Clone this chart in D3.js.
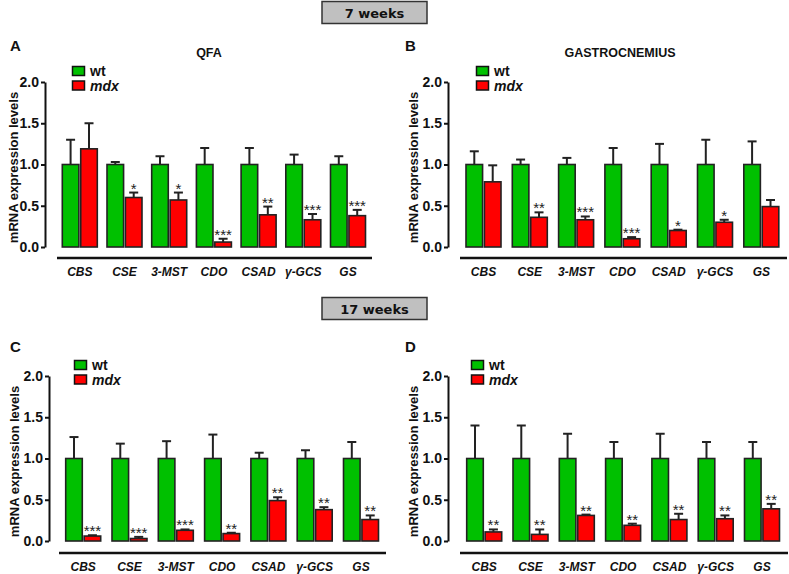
<!DOCTYPE html>
<html><head><meta charset="utf-8">
<script src="https://cdn.jsdelivr.net/npm/d3@7"></script>
<style>body{margin:0;background:#fff}svg{display:block}</style>
</head><body>
<svg id="chart" width="789" height="574"></svg>
<script>
const categories = ["CBS","CSE","3-MST","CDO","CSAD","γ-GCS","GS"];
const series = ["wt","mdx"];
const yTicks = [0,0.5,1.0,1.5,2.0];

// Panel A: QFA, 7 weeks
const a_wt = [1,1,1,1,1,1,1];
const a_wtErr = [0.30,0.03,0.10,0.20,0.20,0.12,0.10];
const a_mdx = [1.19,0.60,0.57,0.06,0.39,0.33,0.38];
const a_mdxErr = [0.31,0.06,0.09,0.04,0.10,0.07,0.07];
const a_stars = ["","*","*","***","**","***","***"];

// Panel B: Gastrocnemius, 7 weeks
const b_wt = [1,1,1,1,1,1,1];
const b_wtErr = [0.16,0.06,0.08,0.20,0.25,0.30,0.28];
const b_mdx = [0.79,0.36,0.33,0.10,0.20,0.30,0.49];
const b_mdxErr = [0.20,0.06,0.04,0.02,0.01,0.03,0.08];
const b_stars = ["","**","***","***","*","*",""];

// Panel C: 17 weeks
const c_wt = [1,1,1,1,1,1,1];
const c_wtErr = [0.26,0.18,0.21,0.29,0.07,0.10,0.20];
const c_mdx = [0.06,0.03,0.13,0.09,0.49,0.38,0.26];
const c_mdxErr = [0.01,0.02,0.01,0.01,0.04,0.03,0.05];
const c_stars = ["***","***","***","**","**","**","**"];

// Panel D: 17 weeks
const d_wt = [1,1,1,1,1,1,1];
const d_wtErr = [0.40,0.40,0.30,0.20,0.30,0.20,0.20];
const d_mdx = [0.11,0.08,0.31,0.19,0.26,0.27,0.39];
const d_mdxErr = [0.03,0.06,0.01,0.02,0.07,0.04,0.06];
const d_stars = ["**","**","**","**","**","**","**"];

const colors = {wt:"#00c000", mdx:"#ff0000"};
const svg = d3.select("#chart");
const FONT = "'Liberation Sans', Arial, sans-serif";
const VFONT = "'DejaVu Sans', Verdana, sans-serif";

function header(label, y){
  svg.append("rect").attr("x",322).attr("y",y).attr("width",105).attr("height",22)
    .attr("fill","#c0c0c0").attr("stroke","#333").attr("stroke-width",1.5);
  svg.append("text").attr("x",374.5).attr("y",y+16).attr("text-anchor","middle")
    .attr("font-family",VFONT).attr("font-weight","bold").attr("font-size",13)
    .attr("fill","#111").text(label);
}
header("7 weeks",1.5);
header("17 weeks",297.5);

const panels = [
  {letter:"A", lx:10, ly:51, title:"QFA", tx:209, ty:57, axisX:45, y0:247, y2:82, x0:62.3, pitch:44.7, lineX:[57,372], lineY:258, labY:276, ylabX:18,
   legX:72, legY:66, wt:a_wt, wtErr:a_wtErr, mdx:a_mdx, mdxErr:a_mdxErr, stars:a_stars},
  {letter:"B", lx:405, ly:51, title:"GASTROCNEMIUS", tx:620, ty:57, axisX:448, y0:247, y2:82, x0:466, pitch:46.3, lineX:[460,787], lineY:258, labY:276, ylabX:418,
   legX:476, legY:66, wt:b_wt, wtErr:b_wtErr, mdx:b_mdx, mdxErr:b_mdxErr, stars:b_stars},
  {letter:"C", lx:10, ly:352, title:"", axisX:49, y0:541, y2:376, x0:65.7, pitch:46.3, lineX:[59,386], lineY:553, labY:571, ylabX:19,
   legX:74, legY:360, wt:c_wt, wtErr:c_wtErr, mdx:c_mdx, mdxErr:c_mdxErr, stars:c_stars},
  {letter:"D", lx:405, ly:352, title:"", axisX:448, y0:541, y2:376, x0:466.7, pitch:46.3, lineX:[460,788], lineY:553, labY:571, ylabX:418,
   legX:471, legY:360, wt:d_wt, wtErr:d_wtErr, mdx:d_mdx, mdxErr:d_mdxErr, stars:d_stars}
];

panels.forEach(p=>{
  const g = svg.append("g");
  const y = d3.scaleLinear().domain([0,2]).range([p.y0,p.y2]);
  const pad = 1 - 35/p.pitch;
  const x = d3.scaleBand().domain(categories)
    .range([p.x0, p.x0 + (categories.length - pad)*p.pitch]).paddingInner(pad).paddingOuter(0);
  const x1 = d3.scaleBand().domain(series).range([0,x.bandwidth()]).paddingInner(0.1);

  g.append("text").attr("x",p.lx).attr("y",p.ly).attr("font-family",FONT).attr("font-weight","bold")
    .attr("font-size",15).attr("fill","#111").text(p.letter);
  if(p.title) g.append("text").attr("x",p.tx).attr("y",p.ty).attr("text-anchor","middle")
    .attr("font-family",FONT).attr("font-weight","bold").attr("font-size",12.5).attr("fill","#111").text(p.title);

  const ax = g.append("g").attr("transform",`translate(${p.axisX},0)`)
    .call(d3.axisLeft(y).tickValues(yTicks).tickFormat(d3.format(".1f")).tickSize(4).tickSizeOuter(0).tickPadding(2));
  ax.select(".domain").attr("stroke","#111").attr("stroke-width",2);
  ax.selectAll(".tick line").attr("stroke","#111").attr("stroke-width",2);
  ax.selectAll(".tick text").attr("font-family",FONT).attr("font-weight","bold").attr("font-size",14).attr("fill","#111");

  g.append("text").attr("transform",`translate(${p.ylabX},${(p.y0+p.y2)/2+3}) rotate(-90)`)
    .attr("text-anchor","middle").attr("font-family",FONT).attr("font-weight","bold").attr("font-size",13)
    .attr("fill","#111").text("mRNA expression levels");

  g.append("line").attr("x1",p.lineX[0]).attr("x2",p.lineX[1]).attr("y1",p.lineY).attr("y2",p.lineY)
    .attr("stroke","#111").attr("stroke-width",2.5);
  g.selectAll(".cat").data(categories).join("text")
    .attr("x",d=>x(d)+x.bandwidth()/2).attr("y",p.labY).attr("text-anchor","middle")
    .attr("font-family",FONT).attr("font-weight","bold").attr("font-style","italic").attr("font-size",12)
    .attr("fill","#111").text(d=>d);

  const rows = categories.map((c,i)=>({c, vals:[
    {s:"wt", v:p.wt[i], e:p.wtErr[i], star:""},
    {s:"mdx", v:p.mdx[i], e:p.mdxErr[i], star:p.stars[i]}]}));

  const grp = g.selectAll(".grp").data(rows).join("g").attr("transform",d=>`translate(${x(d.c)},0)`);
  const bar = grp.selectAll(".b").data(d=>d.vals).join("g");
  bar.append("line").attr("x1",d=>x1(d.s)+x1.bandwidth()/2).attr("x2",d=>x1(d.s)+x1.bandwidth()/2)
    .attr("y1",d=>y(d.v)).attr("y2",d=>y(d.v+d.e)).attr("stroke","#222").attr("stroke-width",2);
  bar.append("line").attr("x1",d=>x1(d.s)+x1.bandwidth()/2-4.5).attr("x2",d=>x1(d.s)+x1.bandwidth()/2+4.5)
    .attr("y1",d=>y(d.v+d.e)).attr("y2",d=>y(d.v+d.e)).attr("stroke","#222").attr("stroke-width",2);
  bar.append("rect").attr("x",d=>x1(d.s)).attr("width",x1.bandwidth())
    .attr("y",d=>y(d.v)).attr("height",d=>y(0)-y(d.v))
    .attr("fill",d=>colors[d.s]).attr("stroke","#222").attr("stroke-width",1.6);
  bar.filter(d=>d.star).append("text").attr("x",d=>x1(d.s)+x1.bandwidth()/2).attr("y",d=>y(d.v+d.e)+1)
    .attr("text-anchor","middle").attr("font-family",FONT).attr("font-size",15).attr("fill","#222").text(d=>d.star);

  const leg = g.append("g").attr("transform",`translate(${p.legX},${p.legY})`);
  series.forEach((s,i)=>{
    leg.append("rect").attr("x",0.5).attr("y",i*14.5+0.5).attr("width",12).attr("height",9)
      .attr("fill",colors[s]).attr("stroke","#111").attr("stroke-width",1.5);
    leg.append("text").attr("x",18).attr("y",i*14.5+10).attr("font-family",FONT).attr("font-weight","bold")
      .attr("font-style",s==="mdx"?"italic":"normal").attr("font-size",14).attr("fill","#111").text(s);
  });
});
</script>
</body></html>
